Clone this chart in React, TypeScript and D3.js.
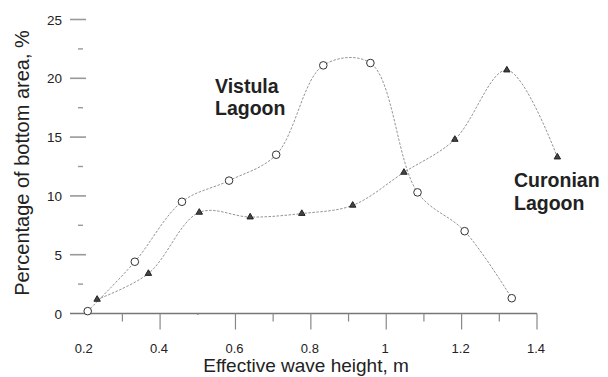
import React, { useEffect, useRef } from "react";
import * as d3 from "d3";

// Wave heights (m) and share of bottom area (%) per lagoon
const vistulaX = [0.208, 0.333, 0.458, 0.583, 0.708, 0.833, 0.958, 1.083, 1.208, 1.333];
const vistulaY = [0.2, 4.4, 9.5, 11.3, 13.5, 21.1, 21.3, 10.3, 7.0, 1.3];
const curonianX = [0.233, 0.369, 0.504, 0.639, 0.776, 0.911, 1.047, 1.182, 1.32, 1.454];
const curonianY = [1.2, 3.4, 8.6, 8.2, 8.5, 9.2, 12.0, 14.8, 20.7, 13.3];

const xMajorTicks = [0.2, 0.4, 0.6, 0.8, 1, 1.2, 1.4];
const xMinorTicks = [0.3, 0.5, 0.7, 0.9, 1.1, 1.3];
const yMajorTicks = [0, 5, 10, 15, 20, 25];
const yMinorTicks = [2.5, 7.5, 12.5, 17.5, 22.5];

export default function App() {
  const ref = useRef<SVGSVGElement>(null);

  useEffect(() => {
    const width = 608,
      height = 377;
    const font = "Liberation Sans, Arial, sans-serif";
    const ink = "#222";

    const svg = d3.select(ref.current).attr("width", width).attr("height", height);
    svg.selectAll("*").remove();

    // Scales
    const x = d3.scaleLinear().domain([0.2, 1.4]).range([84.7, 537]);
    const y = d3.scaleLinear().domain([0, 25]).range([313.5, 19.5]);

    // X axis line, starting a little left of 0.2
    svg
      .append("line")
      .attr("x1", x(0.161))
      .attr("x2", x(1.4))
      .attr("y1", y(0))
      .attr("y2", y(0))
      .attr("stroke", "#777")
      .attr("stroke-width", 1.3);

    // X ticks (no mark at 0.2)
    svg
      .selectAll(".xmajor")
      .data(xMajorTicks.filter((d) => d > 0.2))
      .enter()
      .append("line")
      .attr("x1", (d) => x(d))
      .attr("x2", (d) => x(d))
      .attr("y1", y(0))
      .attr("y2", y(0) + 16)
      .attr("stroke", "#888")
      .attr("stroke-width", 1.2);

    svg
      .selectAll(".xminor")
      .data(xMinorTicks)
      .enter()
      .append("line")
      .attr("x1", (d) => x(d))
      .attr("x2", (d) => x(d))
      .attr("y1", y(0))
      .attr("y2", (d) => y(0) + (d === 0.5 ? 1.5 : 8))
      .attr("stroke", "#888")
      .attr("stroke-width", 1.2);

    svg
      .selectAll(".xlabel")
      .data(xMajorTicks)
      .enter()
      .append("text")
      .attr("x", (d) => x(d) - 1)
      .attr("y", 353)
      .attr("text-anchor", "middle")
      .attr("font-family", font)
      .attr("font-size", 13)
      .attr("fill", ink)
      .text((d) => String(d));

    // Y ticks, no vertical axis line
    svg
      .selectAll(".ymajor")
      .data(yMajorTicks.filter((d) => d > 0))
      .enter()
      .append("line")
      .attr("x1", 70)
      .attr("x2", 86)
      .attr("y1", (d) => y(d))
      .attr("y2", (d) => y(d))
      .attr("stroke", "#999")
      .attr("stroke-width", 1.6);

    svg
      .selectAll(".yminor")
      .data(yMinorTicks)
      .enter()
      .append("line")
      .attr("x1", 78)
      .attr("x2", 83)
      .attr("y1", (d) => y(d))
      .attr("y2", (d) => y(d))
      .attr("stroke", "#999")
      .attr("stroke-width", 1.4);

    svg
      .selectAll(".ylabel")
      .data(yMajorTicks)
      .enter()
      .append("text")
      .attr("x", 62)
      .attr("y", (d) => y(d) + 5)
      .attr("text-anchor", "end")
      .attr("font-family", font)
      .attr("font-size", 13.5)
      .attr("fill", ink)
      .text((d) => String(d));

    // Axis titles
    svg
      .append("text")
      .attr("x", 306)
      .attr("y", 372)
      .attr("text-anchor", "middle")
      .attr("font-family", font)
      .attr("font-size", 19)
      .attr("fill", ink)
      .text("Effective wave height, m");

    svg
      .append("text")
      .attr("transform", "translate(29,163) rotate(-90)")
      .attr("text-anchor", "middle")
      .attr("font-family", font)
      .attr("font-size", 20)
      .attr("fill", ink)
      .text("Percentage of bottom area, %");

    // Smoothed dashed curves
    const line = d3
      .line<[number, number]>()
      .x((d) => x(d[0]))
      .y((d) => y(d[1]))
      .curve(d3.curveCatmullRom.alpha(0.5));

    const vistula = vistulaX.map((v, i) => [v, vistulaY[i]] as [number, number]);
    const curonian = curonianX.map((v, i) => [v, curonianY[i]] as [number, number]);

    [vistula, curonian].forEach((pts) => {
      svg
        .append("path")
        .attr("d", line(pts))
        .attr("fill", "none")
        .attr("stroke", "#777")
        .attr("stroke-width", 0.8)
        .attr("stroke-dasharray", "2.5,1.5");
    });

    // Circle markers for Vistula
    svg
      .selectAll(".vis")
      .data(vistula)
      .enter()
      .append("circle")
      .attr("cx", (d) => x(d[0]))
      .attr("cy", (d) => y(d[1]))
      .attr("r", 3.8)
      .attr("fill", "#fff")
      .attr("stroke", "#333")
      .attr("stroke-width", 1);

    // Triangle markers for Curonian
    const tri = d3.symbol().type(d3.symbolTriangle).size(18);
    svg
      .selectAll(".cur")
      .data(curonian)
      .enter()
      .append("path")
      .attr("d", tri)
      .attr("transform", (d) => `translate(${x(d[0])},${y(d[1])})`)
      .attr("fill", "#444")
      .attr("stroke", "#222")
      .attr("stroke-width", 1);

    // Lagoon labels
    const labels = [
      { lines: ["Vistula", "Lagoon"], x: 215, y: 93, dy: 22 },
      { lines: ["Curonian", "Lagoon"], x: 514, y: 187, dy: 23 },
    ];
    labels.forEach((l) => {
      const t = svg
        .append("text")
        .attr("font-family", font)
        .attr("font-weight", "bold")
        .attr("font-size", 19.5)
        .attr("fill", ink);
      l.lines.forEach((s, i) => {
        t.append("tspan").attr("x", l.x).attr("y", l.y + i * l.dy).text(s);
      });
    });
  }, []);

  return <svg ref={ref} style={{ position: "absolute", left: 0, top: 0, background: "#fff" }}></svg>;
}
